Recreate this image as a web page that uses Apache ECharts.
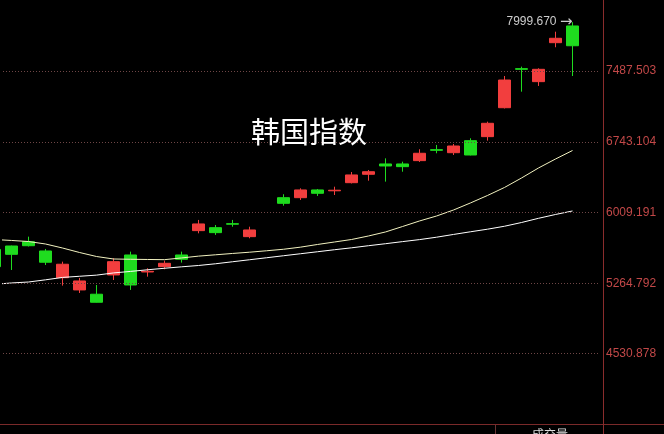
<!DOCTYPE html>
<html>
<head>
<meta charset="utf-8">
<script src="https://cdn.jsdelivr.net/npm/echarts@6/dist/echarts.min.js"></script>
<style>html,body{margin:0;padding:0;background:#000;}#c{width:664px;height:434px;}</style>
</head>
<body>
<div id="c"></div>
<script>
// slot D0 is the partial candle at the left edge; D35 is an empty trailing slot
const categories = ['D0','D1','D2','D3','D4','D5','D6','D7','D8','D9','D10','D11','D12','D13','D14','D15','D16','D17','D18','D19','D20','D21','D22','D23','D24','D25','D26','D27','D28','D29','D30','D31','D32','D33','D34','D35'];
const openVals  = [5620,5656,5701,5604,5324,5196,5151,5353,5562,5384,5440,5562,5817,5848,5890,5754,null,6162,6162,6243,6234,6319,6407,6515,6515,6550,6665,6633,6759,6801,7104,7513,7377,7785,7960,null];
const closeVals = [5440,5569,5659,5486,5465,5290,5067,5492,5248,5391,5475,5517,5887,5796,5884,5824,null,6103,6243,6208,6240,6400,6434,6494,6487,6627,6658,6703,6609,6941,7394,7506,7506,7831,7753,null];
const lowVals   = [5420,5405,5651,5457,5241,5164,5064,5300,5196,5335,5412,5482,5789,5772,5858,5737,null,6078,6138,6180,6190,6311,6340,6330,6434,6536,6627,6609,6605,6759,7096,7272,7332,7737,7436,null];
const highVals  = [5640,5660,5754,5625,5492,5321,5248,5528,5597,5423,5502,5597,5929,5876,5929,5858,null,6198,6260,6253,6277,6431,6452,6574,6539,6669,6714,6724,6784,6958,7436,7534,7517,7900,7999.67,null];
const maUpper = [5724,5714,5703,5677,5635,5588,5546,5520,5517,5515,5513,5531,5550,5564,5578,5591,5606,5622,5644,5672,5698,5724,5761,5803,5860,5918,5970,6033,6107,6185,6269,6368,6473,6567,6656,null];
const maLower = [5255,5269,5279,5302,5327,5339,5351,5374,5390,5407,5423,5438,5452,5470,5491,5512,5533,5554,5575,5596,5617,5637,5659,5680,5702,5723,5748,5777,5805,5832,5863,5902,5946,5986,6023,null];
const yTickLabels = ['8221.417','7487.503','6743.104','6009.191','5264.792','4530.878'];
const titleText = '韩国指数';
const volumeText = '成交量';

const candleData = openVals.map((o, i) => o === null ? '-' : [o, closeVals[i], lowVals[i], highVals[i]]);
const RED = '#f23e3e', GREEN = '#1fdc1f';

const chart = echarts.init(document.getElementById('c'), null, {renderer: 'canvas'});
chart.setOption({
  backgroundColor: '#000',
  animation: false,
  title: {
    text: titleText, left: 246, top: 112,
    textStyle: {color: '#ffffff', fontSize: 29, fontWeight: 'normal', fontFamily: 'Noto Sans CJK SC'}
  },
  grid: {left: 3, right: 66, top: 1, bottom: 9.5},
  xAxis: {
    type: 'category', data: categories, boundaryGap: true, min: 1,
    axisLine: {show: false}, axisTick: {show: false}, axisLabel: {show: false}, splitLine: {show: false}
  },
  yAxis: {
    type: 'value', position: 'right', offset: 5, min: 3787, max: 8221.417, scale: true,
    axisLine: {show: true, lineStyle: {color: '#8a2c2c', width: 1}},
    axisTick: {show: false}, axisLabel: {show: false}, splitLine: {show: false}
  },
  series: [
    {
      type: 'candlestick', data: candleData, barWidth: 13, clip: false,
      itemStyle: {color: RED, color0: GREEN, borderColor: RED, borderColor0: GREEN, borderWidth: 1},
      markLine: {
        silent: true, symbol: 'none', animation: false,
        lineStyle: {type: [1, 2], color: '#6e4646', width: 1},
        label: {show: true, position: 'end', distance: 8, color: '#c24848', fontSize: 12, fontFamily: 'Liberation Sans',
                formatter: p => p.name},
        data: yTickLabels.map(t => ({yAxis: parseFloat(t), name: t}))
      },
      markPoint: {
        symbol: 'circle', symbolSize: 0.1, silent: true, animation: false,
        itemStyle: {color: 'rgba(0,0,0,0)'},
        data: [{type: 'max', valueDim: 'highest', name: 'max'}],
        label: {show: true, position: 'left', distance: 0, color: '#cccccc', fontSize: 12, fontFamily: 'Liberation Sans',
                formatter: p => '{v|' + Number(p.value).toFixed(3) + '} {a|→}',
                rich: {v: {color: '#cccccc', fontSize: 12, fontFamily: 'Liberation Sans'},
                       a: {color: '#cccccc', fontSize: 15, fontFamily: 'DejaVu Sans'}}}
      }
    },
    {type: 'line', data: maUpper, symbol: 'none', silent: true, clip: false, lineStyle: {color: '#f2f2c0', width: 1}},
    {type: 'line', data: maLower, symbol: 'none', silent: true, clip: false, lineStyle: {color: '#ffffff', width: 1}}
  ],
  graphic: [
    {type: 'line', silent: true, shape: {x1: 0, y1: 424.5, x2: 664, y2: 424.5}, style: {stroke: '#7a2a2a', lineWidth: 1}},
    {type: 'line', silent: true, shape: {x1: 603.5, y1: 424, x2: 603.5, y2: 434}, style: {stroke: '#8a2c2c', lineWidth: 1}},
    {type: 'line', silent: true, shape: {x1: 603.5, y1: 0, x2: 603.5, y2: 2}, style: {stroke: '#8a2c2c', lineWidth: 1}},
    {type: 'line', silent: true, shape: {x1: 495.5, y1: 425, x2: 495.5, y2: 434}, style: {stroke: '#6a3434', lineWidth: 1}},
    {type: 'text', silent: true, left: 532, top: 428, style: {text: volumeText, fill: '#dddddd', fontSize: 12, fontFamily: 'Noto Sans CJK SC'}}
  ]
});
</script>
</body>
</html>
